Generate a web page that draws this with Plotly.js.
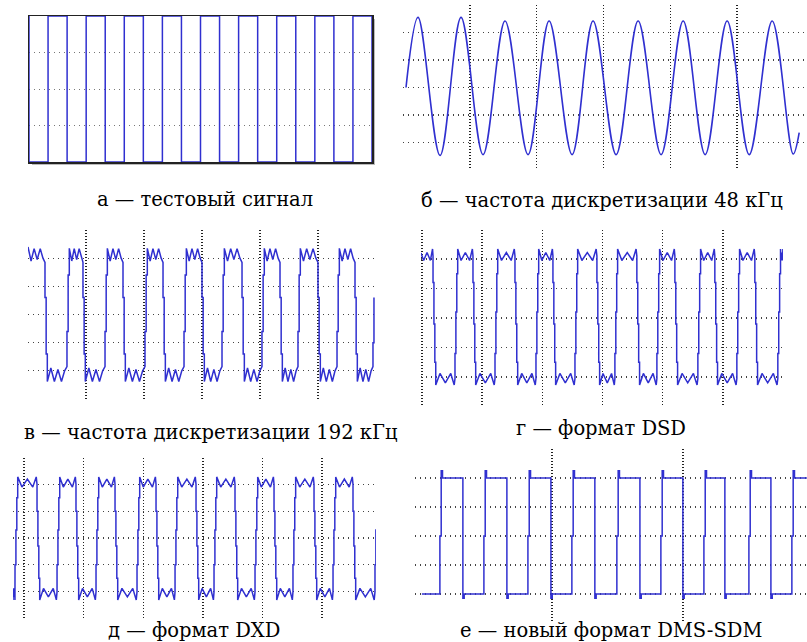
<!DOCTYPE html>
<html><head><meta charset="utf-8">
<script src="https://cdn.plot.ly/plotly-3.0.1.min.js"></script>
<style>html,body{margin:0;padding:0;background:#fff}#chart{width:807px;height:642px}</style>
</head><body><div id="chart"></div>
<script>
// ---------- DATA (x in grid divisions, y in grid divisions) ----------
// а — test signal: square-wave edges and segment levels
const aEdges = [0,1,2,3,4,5,6,7,8,9,10,11,12,13,14,15,16,17,18];
const aLevels = [0,4,0,4,0,4,0,4,0,4,0,4,0,4,0,4,0,4];

// б — 48 kHz: extrema of the reconstructed sine
const bX = [0.045, 0.225, 0.554, 0.868, 1.198, 1.527, 1.871, 2.186, 2.530, 2.844, 3.189, 3.518, 3.862, 4.192, 4.521, 4.850, 5.180, 5.524, 5.838, 5.928];
const bY = [0.0, 2.55, -2.47, 2.55, -2.44, 2.42, -2.44, 2.42, -2.44, 2.42, -2.44, 2.42, -2.44, 2.42, -2.44, 2.42, -2.44, 2.42, -2.42, -1.64];

// в — 192 kHz
const vStart = {x: 0.0, y: 2.4};
const vRise = [0.672, 1.328, 2.017, 2.690, 3.345, 4.034, 4.655, 5.328];
const vFall = [0.293, 0.948, 1.638, 2.328, 3.000, 3.690, 4.345, 5.000, 5.638];
const vEndX = 5.948;
const vTailX = [5.948, 5.965, 5.965];
const vTailY = [-1.0, -1.0, 0.6];
const vTopFrac = [0.18, 0.36, 0.54, 0.72, 0.88, 1.0];
const vTopY = [1.9, 2.34, 1.95, 2.34, 2.0, 1.85];
const vBotY = [-1.9, -2.38, -1.95, -2.38, -2.0, -1.85];
const vRiseSteps = [-0.6, 1.4, 2.35];
const vFallSteps = [0.6, -1.4, -2.38];

// г — DSD
const gStart = {x: -0.017, y: 2.2};
const gRise = [0.548, 1.213, 1.894, 2.542, 3.206, 3.904, 4.585, 5.233, 5.914];
const gFall = [0.183, 0.847, 1.545, 2.176, 2.907, 3.571, 4.203, 4.867, 5.532];
const gEndX = 6.0;
const gTopFrac = [0.22, 0.5, 0.78, 0.96, 1.0];
const gTopY = [1.95, 2.22, 1.95, 2.34, 2.1];
const gBotY = [-1.88, -2.2, -1.88, -2.27, -2.05];
const gRiseSteps = [-1.2, 0.2, 1.5, 2.34];
const gFallSteps = [1.2, -0.2, -1.5, -2.27];

// д — DXD
const dStart = {x: -0.185, y: -2.31};
const dRise = [-0.151, 0.554, 1.208, 1.896, 2.534, 3.188, 3.876, 4.513, 5.185, 5.889];
const dFall = [0.218, 0.872, 1.527, 2.215, 2.886, 3.540, 4.195, 4.866, 5.520];
const dTopFrac = [0.22, 0.5, 0.78, 0.96, 1.0];
const dTopY = [1.9, 2.2, 1.9, 2.28, 2.0];
const dBotY = [-1.88, -2.2, -1.88, -2.31, -2.0];
const dRiseSteps = [-1.0, 0.3, 1.5, 2.28];
const dFallSteps = [1.0, -0.3, -1.5, -2.31];

// е — DMS-SDM
const eStart = {x: -1.985, y: -2.0};
const eRise = [-1.710, -1.038, -0.366, 0.305, 0.992, 1.664, 2.321, 3.008, 3.664];
const eFall = [-1.359, -0.687, -0.015, 0.656, 1.344, 2.000, 2.641, 3.344];
const eEndX = 3.893;
const eTopFrac = [1.0];
const eTopY = [2.0];
const eBotY = [-2.0];
const eRiseSteps = [0.0, 2.25, 2.0];
const eFallSteps = [-2.15, -2.0];

const captions = [
  'а — тестовый сигнал',
  'б — частота дискретизации 48 кГц',
  'в — частота дискретизации 192 кГц',
  'г — формат DSD',
  'д — формат DXD',
  'е — новый формат DMS-SDM'
];

// ---------- BUILD ----------
const W = 807, H = 642;
const BLUE = '#3030d0';
const SERIF = 'DejaVu Serif';
const dxp = (a, b) => [a / W, b / W];
const dyp = (top, bot) => [1 - bot / H, 1 - top / H];

function squareA() {
  const xs = [aEdges[0]], ys = [4 - aLevels[0]];
  for (let i = 0; i < aLevels.length; i++) {
    xs.push(aEdges[i], aEdges[i + 1]); ys.push(aLevels[i], aLevels[i]);
  }
  xs.push(aEdges[aEdges.length - 1]); ys.push(4 - aLevels[aLevels.length - 1]);
  return {xs, ys};
}

function rippleWave(o) {
  const ev = o.rise.map(x => ({x, up: true})).concat(o.fall.map(x => ({x, up: false})))
    .sort((p, q) => p.x - q.x);
  const xs = [o.start.x], ys = [o.start.y];
  let hi = o.start.y > 0, seg = o.start.x;
  const plateau = (a, b, isHi) => {
    const yy = isHi ? o.topY : o.botY;
    o.frac.forEach((f, i) => { xs.push(a + f * (b - a)); ys.push(yy[i]); });
  };
  ev.forEach(e => {
    plateau(seg, e.x, hi);
    const st = e.up ? o.riseSteps : o.fallSteps;
    st.forEach((s, i) => {
      const x = e.x + i * o.step;
      if (i > 0) { xs.push(x); ys.push(st[i - 1]); }
      xs.push(x); ys.push(s);
    });
    seg = e.x + (st.length - 1) * o.step;
    hi = e.up;
  });
  if (o.endX !== undefined) plateau(seg, o.endX, hi);
  if (o.tailX) o.tailX.forEach((x, i) => { xs.push(x); ys.push(o.tailY[i]); });
  return {xs, ys};
}

const A = squareA();
const V = rippleWave({start: vStart, rise: vRise, fall: vFall, endX: vEndX, tailX: vTailX, tailY: vTailY,
  frac: vTopFrac, topY: vTopY, botY: vBotY, riseSteps: vRiseSteps, fallSteps: vFallSteps, step: 0.02});
const G = rippleWave({start: gStart, rise: gRise, fall: gFall, endX: gEndX,
  frac: gTopFrac, topY: gTopY, botY: gBotY, riseSteps: gRiseSteps, fallSteps: gFallSteps, step: 0.015});
const D = rippleWave({start: dStart, rise: dRise, fall: dFall,
  frac: dTopFrac, topY: dTopY, botY: dBotY, riseSteps: dRiseSteps, fallSteps: dFallSteps, step: 0.015});
const E = rippleWave({start: eStart, rise: eRise, fall: eFall, endX: eEndX,
  frac: eTopFrac, topY: eTopY, botY: eBotY, riseSteps: eRiseSteps, fallSteps: eFallSteps, step: 0.02});

const line = {color: BLUE, width: 1.5};
const traces = [
  {x: A.xs, y: A.ys, xaxis: 'x', yaxis: 'y', mode: 'lines', line, cliponaxis: false},
  {x: bX, y: bY, xaxis: 'x2', yaxis: 'y2', mode: 'lines', line: {color: BLUE, width: 1.6, shape: 'spline', smoothing: 1}, cliponaxis: false},
  {x: V.xs, y: V.ys, xaxis: 'x3', yaxis: 'y3', mode: 'lines', line, cliponaxis: false},
  {x: G.xs, y: G.ys, xaxis: 'x4', yaxis: 'y4', mode: 'lines', line, cliponaxis: false},
  {x: D.xs, y: D.ys, xaxis: 'x5', yaxis: 'y5', mode: 'lines', line, cliponaxis: false},
  {x: E.xs, y: E.ys, xaxis: 'x6', yaxis: 'y6', mode: 'lines', line, cliponaxis: false}
];

const VG = {showgrid: true, gridcolor: '#222', griddash: '1px,2px', gridwidth: 1.4};
const HG = {showgrid: true, gridcolor: '#444', griddash: '1px,4px', gridwidth: 1.2};
const base = {zeroline: false, showticklabels: false, ticks: '', fixedrange: true, tickmode: 'array', showline: false};
function ax(extra) { return Object.assign({}, base, extra); }

const layout = {
  width: W, height: H, margin: {l: 0, r: 0, t: 0, b: 0},
  paper_bgcolor: '#fff', plot_bgcolor: 'rgba(0,0,0,0)', showlegend: false,
  font: {family: SERIF, color: '#000'},
  shapes: [
    {type: 'line', xref: 'paper', yref: 'paper', x0: 374 / W, x1: 374 / W, y0: 1 - 165 / H, y1: 1 - 19 / H, line: {color: '#bbb', width: 2}, layer: 'below'},
    {type: 'line', xref: 'paper', yref: 'paper', x0: 32 / W, x1: 375 / W, y0: 1 - 164 / H, y1: 1 - 164 / H, line: {color: '#bbb', width: 2}, layer: 'below'}
  ],
  xaxis: ax({domain: dxp(29, 372), range: [0, 18], showgrid: false, showline: true, mirror: true, linecolor: '#222', linewidth: 1.5, layer: 'below traces', anchor: 'y'}),
  yaxis: ax({domain: dyp(16, 162), range: [0, 4], tickvals: [1, 2, 3], showgrid: true, gridcolor: '#777', griddash: '1px,4px', gridwidth: 1, showline: true, mirror: true, linecolor: '#222', linewidth: 1.5, layer: 'below traces', anchor: 'x'}),
  xaxis2: ax(Object.assign({domain: dxp(403, 804), range: [0, 6], tickvals: [1, 2, 3, 4, 5], anchor: 'y2'}, VG)),
  yaxis2: ax(Object.assign({domain: dyp(5, 170), range: [-3, 3], tickvals: [-2, -1, 0, 1, 2], anchor: 'x2'}, HG)),
  xaxis3: ax(Object.assign({domain: dxp(28, 376), range: [0, 6], tickvals: [0, 1, 2, 3, 4, 5], anchor: 'y3'}, VG)),
  yaxis3: ax(Object.assign({domain: dyp(230, 399), range: [-3, 3], tickvals: [-2, -1, 0, 1, 2], anchor: 'x3'}, HG)),
  xaxis4: ax(Object.assign({domain: dxp(421, 783), range: [-0.017, 6], tickvals: [0, 1, 2, 3, 4, 5], anchor: 'y4'}, VG)),
  yaxis4: ax(Object.assign({domain: dyp(229.5, 406.5), range: [-3, 3], tickvals: [-2, -1, 0, 1, 2], anchor: 'x4'}, HG)),
  xaxis5: ax(Object.assign({domain: dxp(13, 376), range: [-0.185, 5.906], tickvals: [0, 1, 2, 3, 4, 5], anchor: 'y5'}, VG)),
  yaxis5: ax(Object.assign({domain: dyp(457.6, 618.4), range: [-3, 3], tickvals: [-2, -1, 0, 1, 2], anchor: 'x5'}, HG)),
  xaxis6: ax(Object.assign({domain: dxp(415, 807), range: [-2.09, 3.895], tickvals: [0, 2], anchor: 'y6'}, VG)),
  yaxis6: ax(Object.assign({domain: dyp(449, 623), range: [-3, 3], tickvals: [-2, -1, 0, 1, 2], anchor: 'x6'}, HG)),
  annotations: [[205, 199], [602, 200], [210, 432], [601, 428], [194, 630], [611, 630]].map((p, i) => ({
    text: captions[i], xref: 'paper', yref: 'paper', x: p[0] / W, y: 1 - p[1] / H,
    xanchor: 'center', yanchor: 'middle', showarrow: false,
    font: {family: SERIF, size: 19.5, color: '#000'}
  }))
};

Plotly.newPlot('chart', traces, layout, {staticPlot: true, displayModeBar: false});
</script>
</body></html>
